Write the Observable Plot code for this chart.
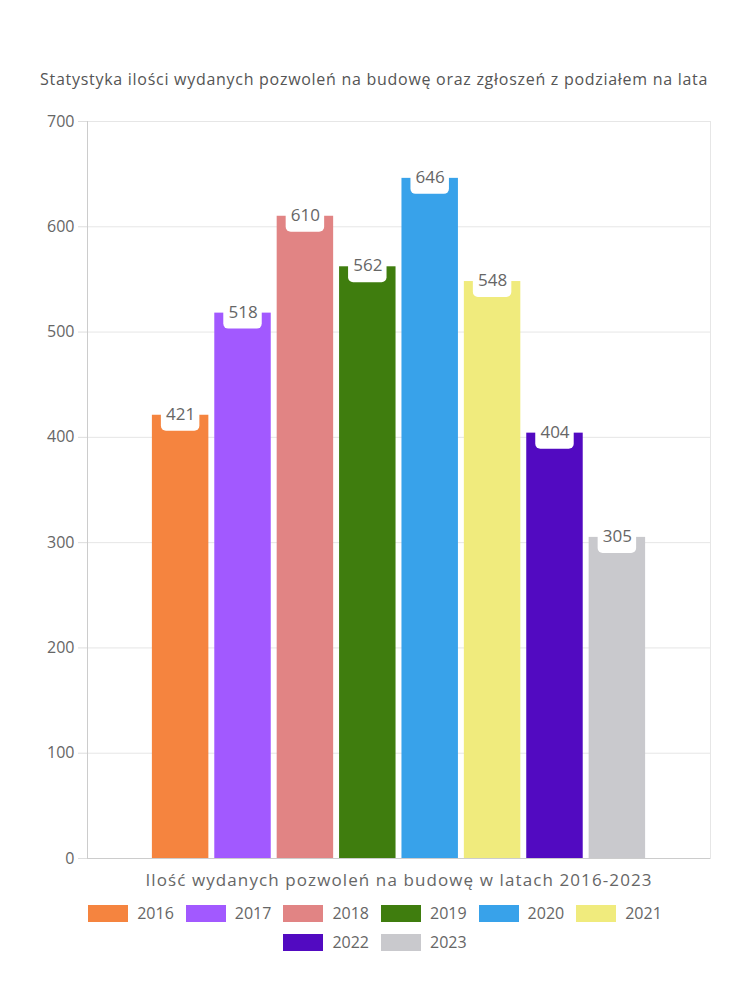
<!DOCTYPE html>
<html>
<head>
<meta charset="utf-8">
<script src="https://cdn.jsdelivr.net/npm/d3@7"></script>
<script src="https://cdn.jsdelivr.net/npm/@observablehq/plot@0.6"></script>
<style>
  body { margin: 0; background: #fff; font-family: "Open Sans", sans-serif; color: #666; }
  #wrap { width: 750px; }
  #title { height: 100px; box-sizing: border-box; padding-top: 68px; padding-left: 40px; font-size: 16px; line-height: 22px; color: #555; white-space: nowrap; letter-spacing: 0.72px; }
  #legend { width: 600px; margin: 4px auto 0 auto; display: flex; flex-wrap: wrap; justify-content: center; }
  .item { display: flex; align-items: center; margin: 0 6px 7px 6px; font-size: 16px; color: #666; }
  .sw { width: 40px; height: 17px; margin-right: 9px; }
</style>
</head>
<body>
<div id="wrap">
  <div id="title"></div>
  <div id="chart"></div>
  <div id="legend"></div>
</div>
<script>
const titleText = "Statystyka ilości wydanych pozwoleń na budowę oraz zgłoszeń z podziałem na lata";
const xLabel = "Ilość wydanych pozwoleń na budowę w latach 2016-2023";
const years = ["2016", "2017", "2018", "2019", "2020", "2021", "2022", "2023"];
const values = [421, 518, 610, 562, 646, 548, 404, 305];
const colors = ["#F5843F", "#A259FF", "#E18484", "#3F7D0E", "#38A2EA", "#F0EB7D", "#520AC1", "#C9C9CD"];
const yTicks = [0, 100, 200, 300, 400, 500, 600, 700];

const data = years.map((y, i) => ({year: y, value: values[i]}));

document.getElementById("title").textContent = titleText;

const chart = Plot.plot({
  width: 750,
  height: 798,
  marginLeft: 87,
  marginRight: 40,
  marginTop: 21,
  marginBottom: 40,
  style: {fontFamily: "Open Sans, sans-serif", fontSize: "16px", color: "#666", background: "#fff"},
  x: {type: "band", domain: years, paddingInner: 0.095, paddingOuter: 1.04, round: false, axis: null},
  y: {domain: [0, 700], axis: null},
  color: {domain: years, range: colors},
  marks: [
    Plot.ruleY(yTicks, {stroke: "#e6e6e6"}),
    Plot.frame({stroke: "#e6e6e6"}),
    Plot.frame({anchor: "left", stroke: "#cccccc"}),
    Plot.axisY({ticks: yTicks, tickSize: 9, tickPadding: 4, stroke: "#dddddd", fill: "#666", fontSize: 16, label: null}),
    Plot.barY(data, {x: "year", y: "value", fill: "year"}),
    Plot.ruleY([0], {stroke: "#cccccc"}),
    Plot.barY(data, {x: "year", y1: "value", y2: "value", fill: "#fff", insetTop: -15, insetBottom: -16, insetLeft: 9, insetRight: 9, rx: 5}),
    Plot.text(data, {x: "year", y: "value", text: d => String(d.value), fill: "#666", fontSize: 17, lineAnchor: "middle", dy: -1}),
    Plot.text([xLabel], {frameAnchor: "bottom", dy: 27, fill: "#666", fontSize: 17})
  ]
});
document.getElementById("chart").appendChild(chart);
chart.querySelectorAll("text").forEach(t => { if (t.textContent === xLabel) t.style.letterSpacing = "1.1px"; });

const legend = document.getElementById("legend");
years.forEach((y, i) => {
  const it = document.createElement("div");
  it.className = "item";
  const sw = document.createElement("div");
  sw.className = "sw";
  sw.style.background = colors[i];
  const lb = document.createElement("span");
  lb.textContent = y;
  it.appendChild(sw);
  it.appendChild(lb);
  legend.appendChild(it);
});
</script>
</body>
</html>
